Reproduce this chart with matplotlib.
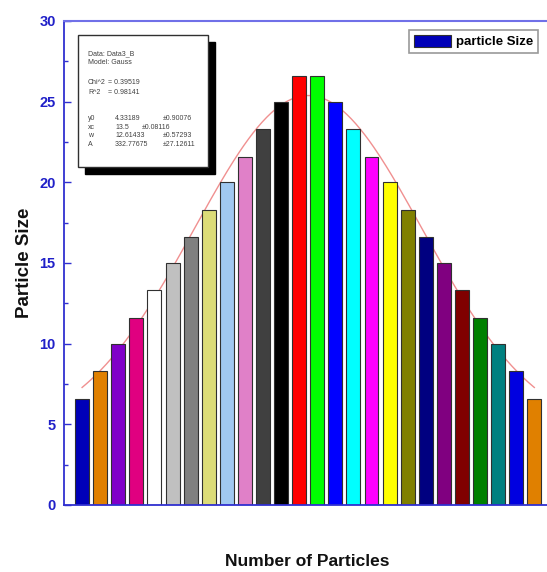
import numpy as np
import matplotlib
matplotlib.use("Agg")
import matplotlib.pyplot as plt
from matplotlib.patches import Rectangle

plt.rcParams['font.family'] = ['Liberation Sans', 'DejaVu Sans']

# ---- data ----
particle_index = list(range(1, 27))
particle_size = [6.6, 8.3, 10.0, 11.6, 13.3, 15.0, 16.6, 18.3, 20.0, 21.6, 23.3, 25.0, 26.6,
                 26.6, 25.0, 23.3, 21.6, 20.0, 18.3, 16.6, 15.0, 13.3, 11.6, 10.0, 8.3, 6.6]
bar_colors = ['#0000b8', '#e08000', '#8000c8', '#e00080', '#ffffff', '#c0c0c0', '#808080',
              '#dcdc78', '#a0c8f0', '#e080c8', '#404040', '#000000', '#ff0000', '#00ff00',
              '#0000ff', '#00ffff', '#ff00ff', '#ffff00', '#808000', '#000080', '#800080',
              '#800000', '#008000', '#008080', '#0000e0', '#e08000']
# Gauss fit parameters (from the fit report)
fit_y0 = 4.33189
fit_xc = 13.5
fit_w = 12.61433
fit_A = 332.77675
fit_lines = [
    ("Data: Data3_B", "", ""),
    ("Model: Gauss", "", ""),
    ("", "", ""),
    ("Chi^2", "= 0.39519", ""),
    ("R^2", "= 0.98141", ""),
    ("", "", ""),
    ("y0", "4.33189", "\u00b10.90076"),
    ("xc", "13.5", "\u00b10.08116"),
    ("w", "12.61433", "\u00b10.57293"),
    ("A", "332.77675", "\u00b127.12611"),
]

W, H = 547, 572
fig = plt.figure(figsize=(W / 100, H / 100), dpi=100)

def fx(px):
    return px / W

def fy(py):
    return 1 - py / H

ax = fig.add_axes([fx(64), fy(505), 1 - fx(64), fy(21) - fy(505)])

axis_blue = '#3030d0'
ax.bar(particle_index, particle_size, width=0.77, color=bar_colors,
       edgecolor='#303030', linewidth=0.8, zorder=2, label='particle Size')

xs = np.linspace(particle_index[0], particle_index[-1], 300)
ys = fit_y0 + fit_A / (fit_w * np.sqrt(np.pi / 2)) * np.exp(-2 * (xs - fit_xc) ** 2 / fit_w ** 2)
ax.plot(xs, ys, color='#f09090', linewidth=1.0, zorder=1)

ax.set_xlim(0, 26.7)
ax.set_ylim(0, 30)
ax.set_yticks([0, 5, 10, 15, 20, 25, 30])
ax.set_yticks(np.arange(2.5, 30, 5), minor=True)
ax.set_xticks([])
ax.tick_params(axis='y', which='major', direction='in', length=5, width=1, color=axis_blue,
               labelcolor='#2020c8', labelsize=10.5, pad=6)
ax.tick_params(axis='y', which='minor', direction='in', length=3, width=1, color=axis_blue)
for lab in ax.get_yticklabels():
    lab.set_fontweight('bold')
ax.spines['right'].set_visible(False)
for s in ['left', 'bottom']:
    ax.spines[s].set_color(axis_blue)
    ax.spines[s].set_linewidth(1.3)
ax.spines['top'].set_color('#7070e8')
ax.spines['top'].set_linewidth(1.5)

ax.set_ylabel('Particle Size', fontsize=13.5, fontweight='bold', color='#111111')
ax.yaxis.set_label_coords((33 - 64) / (W - 64), 0.5)
fig.text(fx(307), fy(561), 'Number of Particles', fontsize=12.5, fontweight='bold',
         ha='center', va='center', color='#111111')

leg = ax.legend(loc='upper right', bbox_to_anchor=(fx(538 - 64) / (1 - fx(64)) , (fy(30) - fy(505)) / (fy(21) - fy(505))),
                frameon=True, fancybox=False, prop={'weight': 'bold', 'size': 9.5},
                handlelength=2.8, handleheight=1.1, borderpad=0.35, handletextpad=0.4,
                borderaxespad=0)
leg.get_frame().set_edgecolor('#808080')
leg.get_frame().set_linewidth(1.2)
for p in leg.get_patches():
    p.set_facecolor('#0000b8')

# fit report box with shadow
shadow = Rectangle((fx(85), fy(174)), fx(215) - fx(85), fy(42) - fy(174),
                   transform=fig.transFigure, facecolor='black', edgecolor='black', zorder=5)
box = Rectangle((fx(78), fy(167)), fx(208) - fx(78), fy(35) - fy(167),
                transform=fig.transFigure, facecolor='white', edgecolor='#303030',
                linewidth=1.0, zorder=6)
fig.patches.extend([shadow, box])

line_y = [54, 63, 73, 83, 92, 105, 118, 127, 136, 145]
for i, (a, b, c) in enumerate(fit_lines):
    y = fy(line_y[i])
    if a:
        fig.text(fx(88), y, a, fontsize=5, color='#404040', va='center', zorder=7)
    if b:
        bx = 108 if i in (3, 4) else 115
        fig.text(fx(bx), y, b, fontsize=5, color='#404040', va='center', zorder=7)
    if c:
        cx = 142 if i == 7 else 163
        fig.text(fx(cx), y, c, fontsize=5, color='#404040', va='center', zorder=7)

fig.savefig('out.png', dpi=100)
